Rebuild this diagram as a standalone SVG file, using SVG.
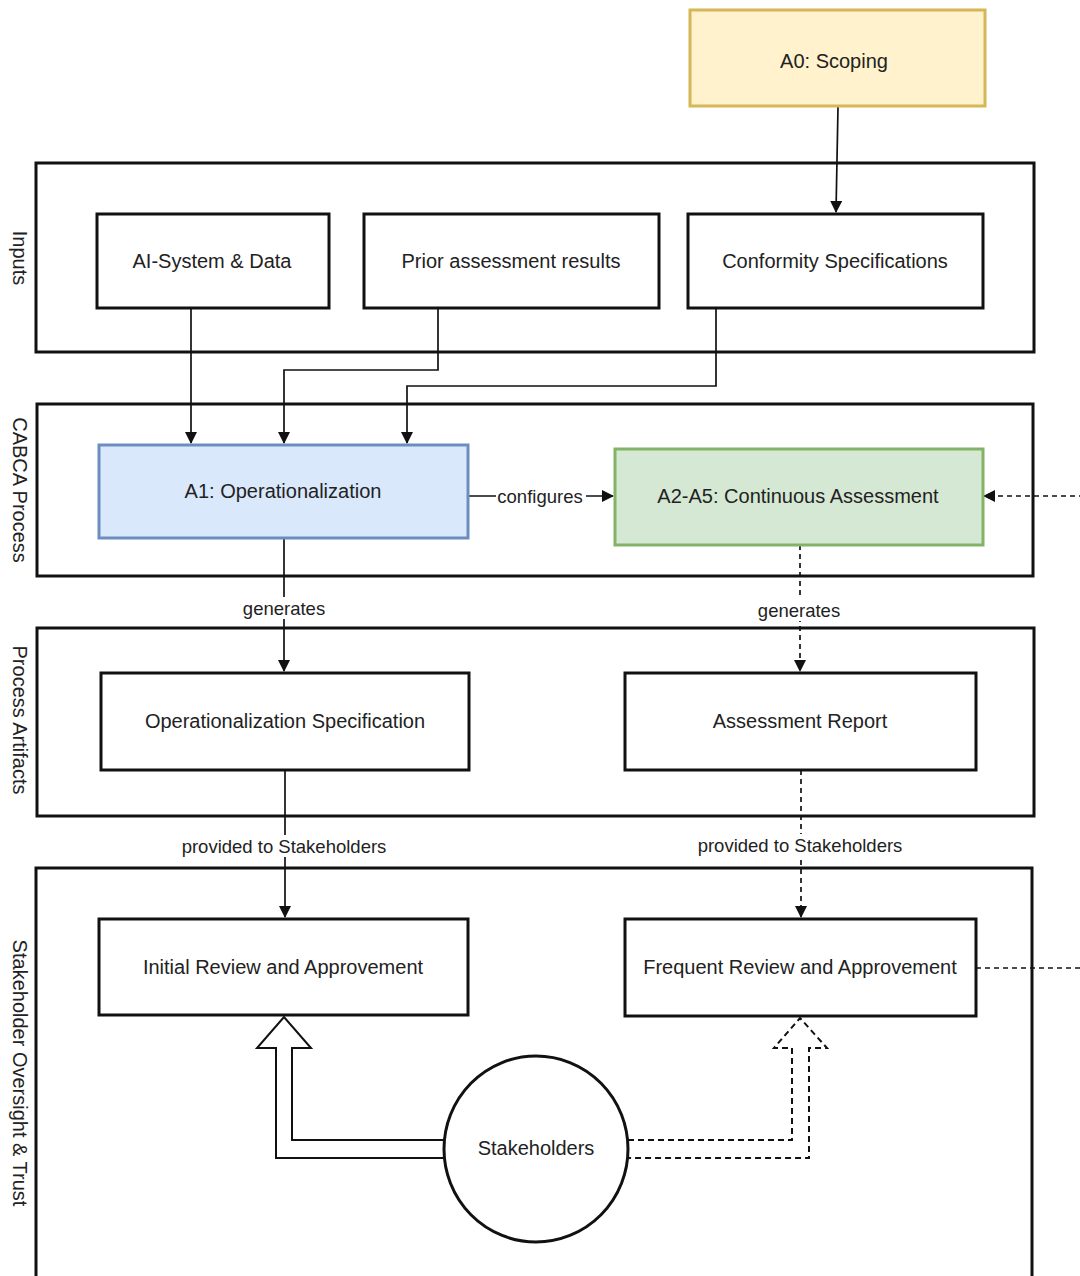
<svg xmlns="http://www.w3.org/2000/svg" width="1080" height="1276" viewBox="0 0 1080 1276">
<defs>
<style>
text{font-family:"Liberation Sans",Arial,sans-serif;fill:#222;}
.lbl{font-size:20px;text-anchor:middle;dominant-baseline:central;}
.elbl{font-size:18.5px;text-anchor:middle;dominant-baseline:central;}
.lane{fill:none;stroke:#111;stroke-width:3;}
.box{fill:#fff;stroke:#111;stroke-width:3;}
.edge{fill:none;stroke:#111;stroke-width:1.7;}
.dash{stroke-dasharray:5 4;}
.bg{fill:#fff;stroke:none;}
</style>
<marker id="arr" viewBox="0 0 12 12" refX="11" refY="6" markerWidth="12" markerHeight="12" markerUnits="userSpaceOnUse" orient="auto">
<path d="M0,0 L12,6 L0,12 Z" fill="#111"/>
</marker>
</defs>

<g id="lanes">
<g id="lane-inputs">
<rect class="lane" x="36" y="163" width="998" height="189"/>
<text class="lbl" transform="translate(20,258) rotate(90)">Inputs</text>
</g>
<g id="lane-cabca">
<rect class="lane" x="37" y="404" width="996" height="172"/>
<text class="lbl" transform="translate(20,490) rotate(90)">CABCA Process</text>
</g>
<g id="lane-artifacts">
<rect class="lane" x="37" y="628" width="997" height="188"/>
<text class="lbl" transform="translate(20,720) rotate(90)">Process Artifacts</text>
</g>
<g id="lane-stakeholder">
<rect class="lane" x="36" y="868" width="996" height="430"/>
<text class="lbl" transform="translate(20,1073) rotate(90)">Stakeholder Oversight &amp; Trust</text>
</g>
</g>

<g id="connectors">
<path class="edge" d="M838,107 L836,212" marker-end="url(#arr)"/>
<path class="edge" d="M191,308 V443" marker-end="url(#arr)"/>
<path class="edge" d="M438,308 V370 H284 V443" marker-end="url(#arr)"/>
<path class="edge" d="M716,308 V386 H407 V443" marker-end="url(#arr)"/>
<path class="edge" d="M468,496 H613" marker-end="url(#arr)"/>
<rect class="bg" x="496" y="485" width="90" height="22"/>
<text class="elbl" x="540" y="496">configures</text>
<path class="edge" d="M284,538 V671" marker-end="url(#arr)"/>
<rect class="bg" x="240" y="597" width="88" height="22"/>
<text class="elbl" x="284" y="608">generates</text>
<path class="edge dash" d="M800,545 V671" marker-end="url(#arr)"/>
<rect class="bg" x="756" y="599" width="88" height="22"/>
<text class="elbl" x="799" y="610">generates</text>
<path class="edge" d="M285,770 V917" marker-end="url(#arr)"/>
<rect class="bg" x="176" y="835" width="216" height="22"/>
<text class="elbl" x="284" y="846">provided to Stakeholders</text>
<path class="edge dash" d="M801,770 V917" marker-end="url(#arr)"/>
<rect class="bg" x="693" y="834" width="214" height="22"/>
<text class="elbl" x="800" y="845">provided to Stakeholders</text>
<path class="edge dash" d="M976,968 H1100 V496 H984" marker-end="url(#arr)"/>
<path d="M443,1140 H292 V1048 H311 L284,1017 L257,1048 H276 V1158 H443" fill="#fff" stroke="#111" stroke-width="2"/>
<path d="M628,1140 H792 V1048 H774 L800,1018 L827,1048 H809 V1158 H628" fill="#fff" stroke="#111" stroke-width="2" stroke-dasharray="6 4"/>
</g>

<g id="node-a0">
<rect x="690" y="10" width="295" height="96" fill="#fff2cc" stroke="#d6b656" stroke-width="3"/>
<text class="lbl" x="834" y="61">A0: Scoping</text>
</g>
<g id="node-ai-system">
<rect class="box" x="97" y="214" width="232" height="94"/>
<text class="lbl" x="212" y="261">AI-System &amp; Data</text>
</g>
<g id="node-prior">
<rect class="box" x="364" y="214" width="295" height="94"/>
<text class="lbl" x="511" y="261">Prior assessment results</text>
</g>
<g id="node-conformity">
<rect class="box" x="688" y="214" width="295" height="94"/>
<text class="lbl" x="835" y="261">Conformity Specifications</text>
</g>
<g id="node-a1">
<rect x="99" y="445" width="369" height="93" fill="#dae8fc" stroke="#6c8ebf" stroke-width="3"/>
<text class="lbl" x="283" y="491">A1: Operationalization</text>
</g>
<g id="node-a2a5">
<rect x="615" y="449" width="368" height="96" fill="#d5e8d4" stroke="#82b366" stroke-width="3"/>
<text class="lbl" x="798" y="496">A2-A5: Continuous Assessment</text>
</g>
<g id="node-opspec">
<rect class="box" x="101" y="673" width="368" height="97"/>
<text class="lbl" x="285" y="721">Operationalization Specification</text>
</g>
<g id="node-report">
<rect class="box" x="625" y="673" width="351" height="97"/>
<text class="lbl" x="800" y="721">Assessment Report</text>
</g>
<g id="node-initial">
<rect class="box" x="99" y="919" width="369" height="96"/>
<text class="lbl" x="283" y="967">Initial Review and Approvement</text>
</g>
<g id="node-frequent">
<rect class="box" x="625" y="919" width="351" height="97"/>
<text class="lbl" x="800" y="967">Frequent Review and Approvement</text>
</g>
<g id="node-stakeholders">
<ellipse cx="536" cy="1149" rx="92" ry="93" fill="#fff" stroke="#111" stroke-width="3"/>
<text class="lbl" x="536" y="1148">Stakeholders</text>
</g>
</svg>
